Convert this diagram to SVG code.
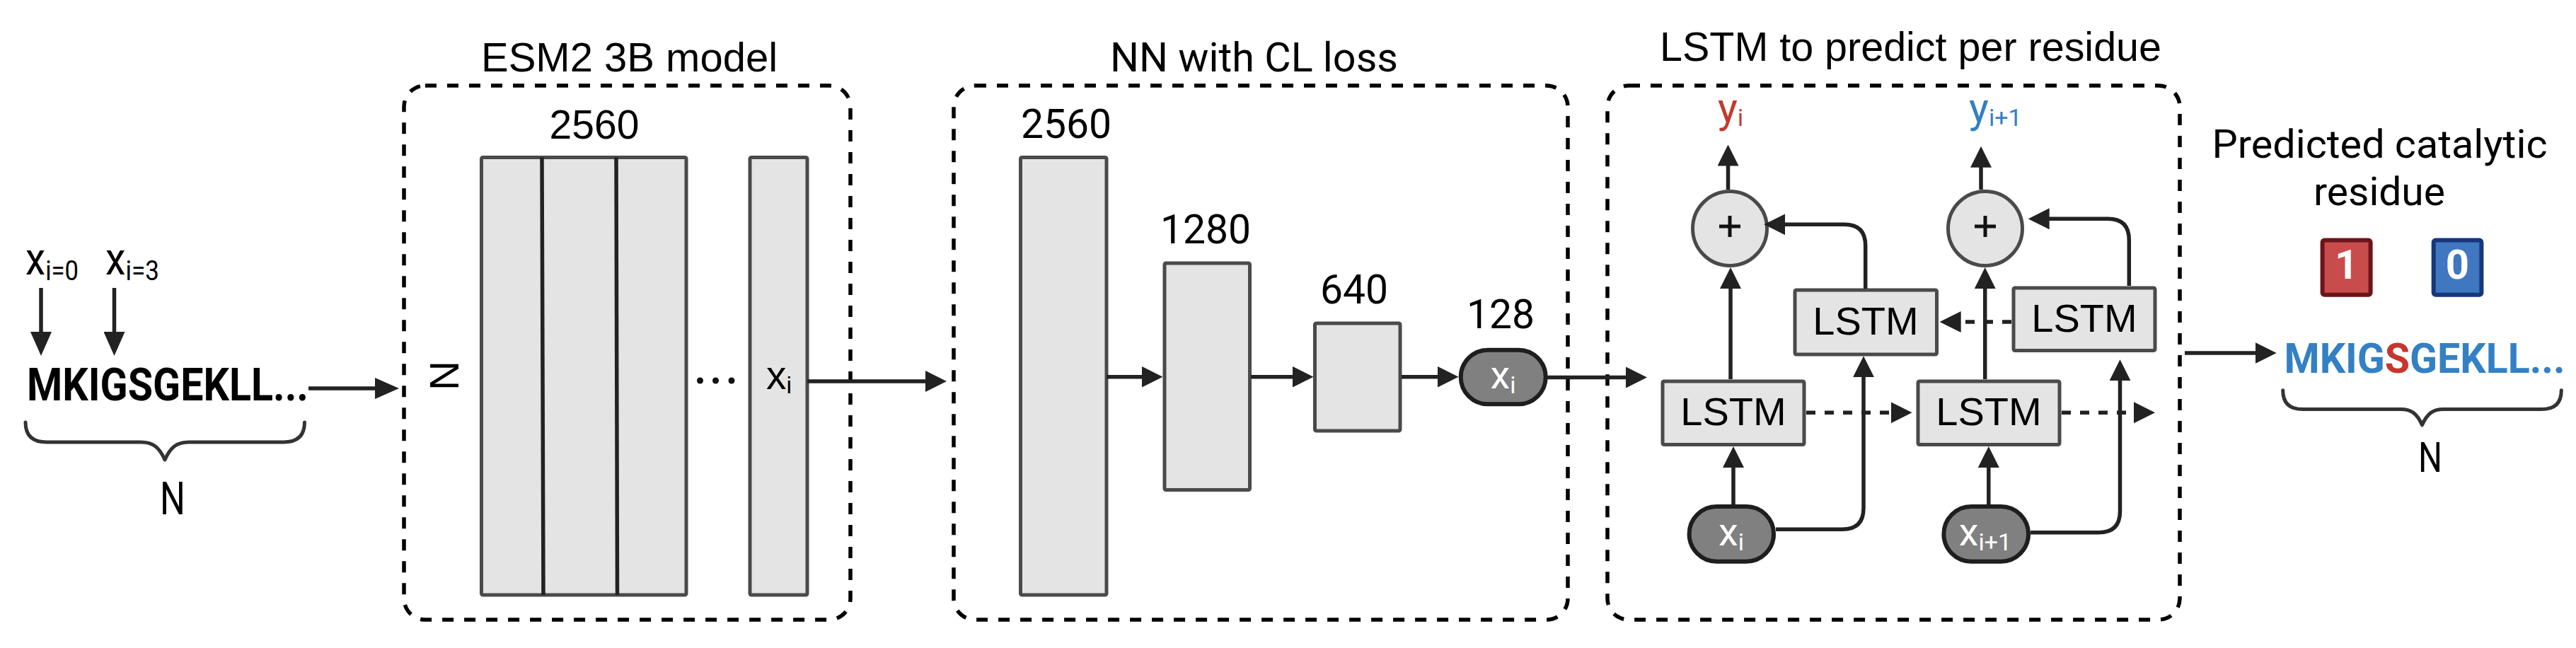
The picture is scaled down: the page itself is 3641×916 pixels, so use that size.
<svg xmlns="http://www.w3.org/2000/svg" width="3641" height="916" viewBox="0 0 3641 916">
<style>
.frame{fill:none;stroke:#000;stroke-width:5.5;stroke-dasharray:16 15}
.blk{fill:#e4e4e4;stroke:#4a4a4a;stroke-width:5}
.pill{fill:#808080;stroke:#1e1e1e;stroke-width:6}
.con{fill:none;stroke:#222;stroke-width:5.5}
.dash{stroke-dasharray:13 13}
.brace{fill:none;stroke:#333;stroke-width:5;stroke-linejoin:round;stroke-linecap:round}
.sans{font-family:"Liberation Sans",Arial,sans-serif}
.rob{font-family:Roboto,"Liberation Sans",sans-serif}
.plus{stroke:#111;stroke-width:5}
</style>
<defs>
<marker id="ah" viewBox="0 0 30 30" refX="20" refY="15" markerWidth="30" markerHeight="30" markerUnits="userSpaceOnUse" orient="auto">
<path d="M0,0 L30,15 L0,30 Z" fill="#222"/>
</marker>
<marker id="ahL" viewBox="0 0 34 30" refX="24" refY="15" markerWidth="34" markerHeight="30" markerUnits="userSpaceOnUse" orient="auto">
<path d="M0,0 L34,15 L0,30 Z" fill="#222"/>
</marker>
</defs>
<rect width="3641" height="916" fill="#fff"/>

<g id="input">
<text class="rob" x="36" y="388" font-size="64" textLength="75" lengthAdjust="spacingAndGlyphs">x<tspan font-size="39" dy="8">i=0</tspan></text>
<text class="rob" x="149" y="388" font-size="64" textLength="76" lengthAdjust="spacingAndGlyphs">x<tspan font-size="39" dy="8">i=3</tspan></text>
<text class="rob" x="38" y="566" font-size="65" font-weight="bold" textLength="398" lengthAdjust="spacingAndGlyphs">MKIGSGEKLL...</text>
<path class="brace" d="M36,597 Q36,625 66,625 L199,625 C216,625 225,632 233,650 C241,632 250,625 267,625 L400.5,625 Q430.5,625 430.5,597"/>
<text class="rob" x="226" y="727" font-size="64" textLength="36" lengthAdjust="spacingAndGlyphs">N</text>
</g>

<g id="esm2">
<rect class="frame" x="571" y="121" width="631" height="755" rx="30"/>
<text class="sans" x="680" y="101" font-size="58">ESM2 3B model</text>
<text class="sans" x="840" y="195.5" font-size="57" text-anchor="middle">2560</text>
<rect class="blk" x="680.5" y="222.5" width="289.5" height="618.5" rx="2"/>
<line x1="766" y1="222.5" x2="768" y2="841" stroke="#222" stroke-width="5.5"/>
<line x1="871" y1="222.5" x2="872.5" y2="841" stroke="#222" stroke-width="5.5"/>
<text class="sans" font-size="58" text-anchor="middle" transform="translate(627,531) rotate(-90)" dy="0.36em">N</text>
<circle cx="989.5" cy="538" r="4.5" fill="#111"/>
<circle cx="1011.5" cy="538" r="4.5" fill="#111"/>
<circle cx="1034" cy="538" r="4.5" fill="#111"/>
<rect class="blk" x="1060" y="222.5" width="81" height="618.5" rx="2"/>
<text class="sans" x="1083" y="550" font-size="57">x<tspan font-size="34" dy="6">i</tspan></text>
</g>

<g id="nn">
<rect class="frame" x="1348" y="121" width="868" height="755" rx="30"/>
<text class="rob" x="1569" y="101" font-size="57" textLength="407" lengthAdjust="spacingAndGlyphs">NN with CL loss</text>
<text class="rob" x="1507" y="195" font-size="57" text-anchor="middle">2560</text>
<rect class="blk" x="1442.5" y="222.5" width="121.5" height="618.5" rx="2"/>
<text class="rob" x="1704" y="344" font-size="57" text-anchor="middle">1280</text>
<rect class="blk" x="1646" y="372" width="120.5" height="320.5" rx="2"/>
<text class="rob" x="1914" y="429" font-size="57" text-anchor="middle">640</text>
<rect class="blk" x="1858.5" y="457" width="120.5" height="152" rx="2"/>
<text class="rob" x="2121" y="464" font-size="57" text-anchor="middle">128</text>
<rect class="pill" x="2064.7" y="494.7" width="120" height="76.6" rx="38.3"/>
<text class="rob" x="2124.5" y="549" font-size="56" fill="#fff" text-anchor="middle">x<tspan font-size="34" dy="7">i</tspan></text>
</g>

<g id="lstm">
<rect class="frame" x="2272" y="121" width="809" height="755" rx="30"/>
<text class="sans" x="2346" y="86" font-size="58" textLength="709" lengthAdjust="spacingAndGlyphs">LSTM to predict per residue</text>
<text class="rob" x="2428" y="173" font-size="59" fill="#c4392f">y<tspan font-size="33" dy="5">i</tspan></text>
<text class="rob" x="2783" y="173" font-size="59" fill="#3380c4">y<tspan font-size="34" dy="5">i+1</tspan></text>
<g id="sum1"><circle cx="2445" cy="323" r="52.5" class="blk"/><path class="plus" d="M2430,320 H2460 M2445,305 V335"/></g>
<g id="sum2"><circle cx="2806" cy="323" r="52.5" class="blk"/><path class="plus" d="M2791,320 H2821 M2806,305 V335"/></g>
<g id="lstmA"><rect class="blk" x="2350" y="539" width="200" height="89.5" rx="2"/><text class="sans" x="2450" y="601" font-size="56" text-anchor="middle">LSTM</text></g>
<g id="lstmB"><rect class="blk" x="2537" y="410" width="200.5" height="91" rx="2"/><text class="sans" x="2637" y="473" font-size="56" text-anchor="middle">LSTM</text></g>
<g id="lstmC"><rect class="blk" x="2711" y="539" width="200" height="89.5" rx="2"/><text class="sans" x="2811" y="601" font-size="56" text-anchor="middle">LSTM</text></g>
<g id="lstmD"><rect class="blk" x="2846" y="407" width="200" height="88.5" rx="2"/><text class="sans" x="2946" y="469" font-size="56" text-anchor="middle">LSTM</text></g>
<g id="xi"><rect class="pill" x="2387.6" y="716" width="119.4" height="77.7" rx="38.8"/><text class="rob" x="2447" y="771" font-size="56" fill="#fff" text-anchor="middle">x<tspan font-size="34" dy="7">i</tspan></text></g>
<g id="xi1"><rect class="pill" x="2747.4" y="716" width="119.6" height="77.7" rx="38.8"/><text class="rob" x="2806" y="771" font-size="56" fill="#fff" text-anchor="middle">x<tspan font-size="34" dy="7">i+1</tspan></text></g>
</g>

<g id="output">
<text class="rob" x="3363.5" y="222.7" font-size="56" text-anchor="middle" textLength="474" lengthAdjust="spacingAndGlyphs">Predicted catalytic</text>
<text class="rob" x="3363" y="289.7" font-size="56" text-anchor="middle" textLength="186" lengthAdjust="spacingAndGlyphs">residue</text>
<g id="label1"><rect x="3282.6" y="339.4" width="68" height="77.4" rx="3" fill="#c94c4c" stroke="#6b1519" stroke-width="6"/><text class="rob" x="3316.6" y="394" font-size="58" font-weight="bold" fill="#fff" text-anchor="middle">1</text></g>
<g id="label0"><rect x="3439.7" y="339.4" width="67.7" height="77.4" rx="3" fill="#3f77c0" stroke="#16377a" stroke-width="6"/><text class="rob" x="3473.5" y="394" font-size="58" font-weight="bold" fill="#fff" text-anchor="middle">0</text></g>
<text class="rob" x="3228.5" y="527" font-size="59" font-weight="bold" fill="#3380c4" textLength="397" lengthAdjust="spacingAndGlyphs">MKIG<tspan fill="#c6362f">S</tspan>GEKLL...</text>
<path class="brace" d="M3226.7,551.8 Q3226.7,578.6 3254.7,578.6 L3393,578.6 C3408,578.6 3416,584 3423.5,600.8 C3431,584 3439,578.6 3454,578.6 L3592.3,578.6 Q3620.3,578.6 3620.3,551.8"/>
<text class="rob" x="3418" y="666.6" font-size="59" textLength="34" lengthAdjust="spacingAndGlyphs">N</text>
</g>

<g id="connectors">
<path class="con" d="M58,407 V493" marker-end="url(#ahL)"/>
<path class="con" d="M161.5,407 V493" marker-end="url(#ahL)"/>
<path class="con" d="M436,549 H554" marker-end="url(#ahL)"/>
<path class="con" d="M1141,539 H1328" marker-end="url(#ah)"/>
<path class="con" d="M1564,532.7 H1633.5" marker-end="url(#ah)"/>
<path class="con" d="M1768,532.7 H1846.5" marker-end="url(#ah)"/>
<path class="con" d="M1981,532.7 H2051.5" marker-end="url(#ah)"/>
<path class="con" d="M2187,533.5 H2318" marker-end="url(#ah)"/>
<path class="con" d="M2450,713 V641" marker-end="url(#ah)"/>
<path class="con" d="M2446,536 V388" marker-end="url(#ah)"/>
<path class="con" d="M2442.5,268 V214.5" marker-end="url(#ah)"/>
<path class="con" d="M2510,748.3 H2604 Q2634,748.3 2634,718.3 V513.3" marker-end="url(#ah)"/>
<path class="con" d="M2636.7,408 V347.3 Q2636.7,317.3 2606.7,317.3 H2503.3" marker-end="url(#ah)"/>
<path class="con dash" d="M2553,583.3 H2692.6" marker-end="url(#ah)"/>
<path class="con dash" d="M2914,583.3 H3036" marker-end="url(#ah)"/>
<path class="con dash" d="M2843,455 H2751.7" marker-end="url(#ah)"/>
<path class="con" d="M2810.8,713 V641" marker-end="url(#ah)"/>
<path class="con" d="M2805.7,536 V388" marker-end="url(#ah)"/>
<path class="con" d="M2800,268 V216.7" marker-end="url(#ah)"/>
<path class="con" d="M2870,752.7 H2966.5 Q2996.5,752.7 2996.5,722.7 V518.3" marker-end="url(#ah)"/>
<path class="con" d="M3009.3,404 V339.3 Q3009.3,309.3 2979.3,309.3 H2876.7" marker-end="url(#ah)"/>
<path class="con" d="M3088,499 H3207.7" marker-end="url(#ah)"/>
</g>
</svg>
